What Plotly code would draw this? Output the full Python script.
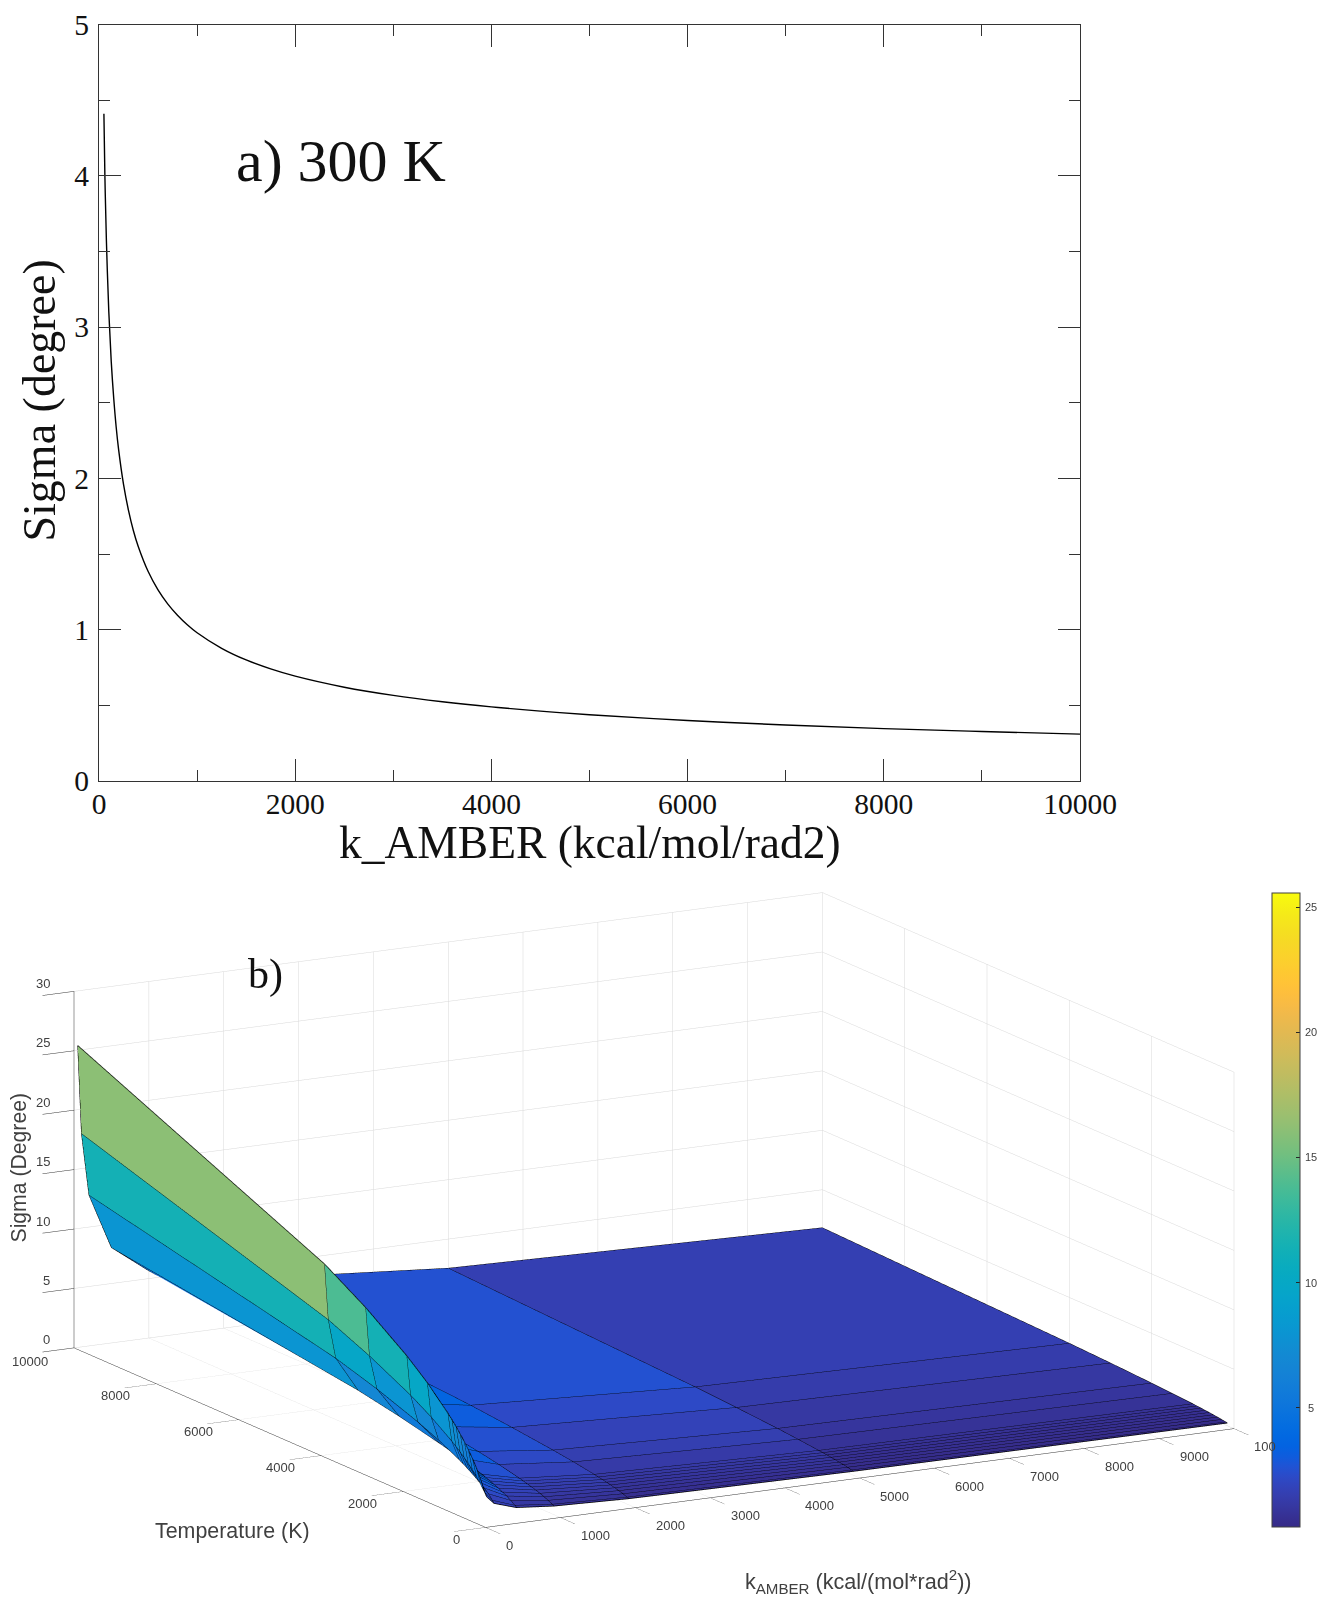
import plotly.graph_objects as go

# ---- panel a) ----
k_300 = [50, 60, 75, 100, 125, 150, 175, 200, 250, 300, 350, 400, 500, 600, 700, 800, 900, 1000, 1250, 1500, 1750,
         2000, 2500, 3000, 3500, 4000, 4500, 5000, 6000, 7000, 8000, 9000, 10000]
sigma_300 = [4.41, 4.00, 3.58, 3.10, 2.77, 2.53, 2.34, 2.19, 1.96, 1.79, 1.656, 1.55, 1.386, 1.265, 1.171, 1.096,
             1.033, 0.98, 0.877, 0.80, 0.741, 0.693, 0.62, 0.566, 0.524, 0.49, 0.462, 0.438, 0.40, 0.37, 0.346,
             0.327, 0.31]

# ---- panel b) ----
k_grid = [50, 100, 200, 500, 1000, 2000, 5000, 10000]
T_grid = [160, 200, 300, 400, 500, 600, 700, 800, 900, 1000, 1500, 2000, 3000, 4000, 10000]
sigma_grid = [
    [3.21, 2.27, 1.61, 1.01, 0.72, 0.51, 0.32, 0.23],
    [3.59, 2.54, 1.80, 1.13, 0.80, 0.57, 0.36, 0.25],
    [4.40, 3.11, 2.20, 1.39, 0.98, 0.70, 0.44, 0.31],
    [5.08, 3.59, 2.54, 1.61, 1.13, 0.81, 0.51, 0.36],
    [5.68, 4.02, 2.84, 1.79, 1.27, 0.90, 0.57, 0.40],
    [6.22, 4.40, 3.11, 1.97, 1.39, 0.99, 0.62, 0.44],
    [6.72, 4.75, 3.36, 2.12, 1.50, 1.07, 0.67, 0.47],
    [7.19, 5.08, 3.59, 2.27, 1.60, 1.14, 0.72, 0.51],
    [7.62, 5.39, 3.81, 2.41, 1.70, 1.21, 0.76, 0.54],
    [8.03, 5.68, 4.02, 2.54, 1.79, 1.28, 0.80, 0.57],
    [9.84, 6.95, 4.92, 3.11, 2.19, 1.57, 0.98, 0.69],
    [11.36, 8.03, 5.68, 3.59, 2.53, 1.81, 1.14, 0.80],
    [13.91, 9.83, 6.96, 4.40, 3.10, 2.21, 1.39, 0.98],
    [16.07, 11.36, 8.03, 5.08, 3.58, 2.56, 1.61, 1.13],
    [25.40, 17.96, 12.70, 8.03, 5.66, 4.04, 2.54, 1.79],
]
k_ticks = [0, 1000, 2000, 3000, 4000, 5000, 6000, 7000, 8000, 9000, 10000]
# the last k label really is 10000; the colorbar cuts it to "100" in the reference
k_tick_text = ["0", "1000", "2000", "3000", "4000", "5000", "6000", "7000", "8000", "9000", "100"]
T_ticks = [0, 2000, 4000, 6000, 8000, 10000]
z_ticks = [0, 5, 10, 15, 20, 25, 30]
colorbar_ticks = [5, 10, 15, 20, 25]
C_MIN, C_MAX = 0.23, 25.57
parula_rgb = [
    (.2081, .1663, .5292), (.2116, .1898, .5777), (.2123, .2138, .6270), (.2081, .2386, .6771), (.1959, .2645, .7279),
    (.1707, .2919, .7792), (.1253, .3242, .8303), (.0591, .3598, .8683), (.0117, .3875, .8820), (.0060, .4086, .8828),
    (.0165, .4266, .8786), (.0329, .4430, .8720), (.0498, .4586, .8641), (.0629, .4737, .8554), (.0723, .4887, .8467),
    (.0779, .5040, .8384), (.0793, .5200, .8312), (.0749, .5375, .8263), (.0641, .5570, .8240), (.0488, .5772, .8228),
    (.0343, .5966, .8199), (.0265, .6137, .8135), (.0239, .6287, .8038), (.0231, .6418, .7913), (.0228, .6535, .7768),
    (.0267, .6642, .7607), (.0384, .6743, .7436), (.0590, .6838, .7254), (.0843, .6928, .7062), (.1133, .7015, .6859),
    (.1453, .7098, .6646), (.1801, .7177, .6424), (.2178, .7250, .6193), (.2586, .7317, .5954), (.3022, .7376, .5712),
    (.3482, .7424, .5473), (.3953, .7459, .5244), (.4420, .7481, .5033), (.4871, .7491, .4840), (.5300, .7491, .4661),
    (.5709, .7485, .4494), (.6099, .7473, .4337), (.6473, .7456, .4188), (.6834, .7435, .4044), (.7184, .7411, .3905),
    (.7525, .7384, .3768), (.7858, .7356, .3633), (.8185, .7327, .3498), (.8507, .7299, .3360), (.8824, .7274, .3217),
    (.9139, .7258, .3063), (.9450, .7261, .2886), (.9739, .7314, .2666), (.9938, .7455, .2403), (.9990, .7653, .2164),
    (.9955, .7861, .1967), (.9880, .8066, .1794), (.9789, .8271, .1633), (.9697, .8481, .1475), (.9626, .8705, .1309),
    (.9589, .8949, .1132), (.9598, .9218, .0948), (.9661, .9514, .0755), (.9763, .9831, .0538),
]
parula = [[n / (len(parula_rgb) - 1), f"rgb({round(r * 255)},{round(g * 255)},{round(b * 255)})"]
          for n, (r, g, b) in enumerate(parula_rgb)]

W, H = 1319, 1600
def px(x): return x / W
def py(y): return 1 - y / H

SERIF = "Liberation Serif"
SANS = "Liberation Sans"
INK = "#404040"
DARK = "#111111"

nT, nk = len(T_grid), len(k_grid)
vx, vy, vz = [], [], []
for i in range(nT):
    for j in range(nk):
        vx.append(k_grid[j]); vy.append(T_grid[i]); vz.append(sigma_grid[i][j])
I, J, K, cell = [], [], [], []
for i in range(nT - 1):
    for j in range(nk - 1):
        a = i * nk + j; b = a + 1; c = a + nk; d = c + 1
        I += [a, a]; J += [b, d]; K += [d, c]
        cell += [sigma_grid[i][j], sigma_grid[i][j]]

lx, ly, lz = [], [], []
for i in range(nT):
    lx += k_grid + [None]; ly += [T_grid[i]] * nk + [None]; lz += sigma_grid[i] + [None]
for j in range(nk):
    lx += [k_grid[j]] * nT + [None]; ly += T_grid + [None]; lz += [row[j] for row in sigma_grid] + [None]

fig = go.Figure()
fig.add_trace(go.Scatter(x=k_300, y=sigma_300, mode="lines", line=dict(color="black", width=1.4, shape="spline"),
                         showlegend=False))
fig.add_trace(go.Mesh3d(x=vx, y=vy, z=vz, i=I, j=J, k=K, intensity=cell, intensitymode="cell",
                        colorscale=parula, cmin=C_MIN, cmax=C_MAX, flatshading=True,
                        lighting=dict(ambient=1, diffuse=0, specular=0, roughness=1, fresnel=0),
                        colorbar=dict(x=px(1272), xanchor="left", xpad=0, ypad=0, y=py(1527), yanchor="bottom",
                                      len=634 / H, lenmode="fraction", thickness=28, thicknessmode="pixels",
                                      tickvals=colorbar_ticks, ticks="inside", ticklen=4, tickcolor="#262626",
                                      outlinecolor="#404040", outlinewidth=1, showticklabels=False)))
fig.add_trace(go.Scatter3d(x=lx, y=ly, z=lz, mode="lines", line=dict(color="black", width=1.5), showlegend=False))

axis3d = dict(showbackground=False, showgrid=True, gridcolor="#d8d8d8", gridwidth=1, zeroline=False, showspikes=False,
              showline=True, linecolor="#333333", linewidth=1, ticks="outside", tickcolor="#333333", tickangle=0,
              tickfont=dict(family=SANS, size=13, color=INK), title=dict(text=""))

SCALE = 2.19
def label(text, x, y, size, family=SANS, color=INK, **kw):
    return dict(text=text, x=px(x), y=py(y), xref="paper", yref="paper", showarrow=False, xanchor="center", yanchor="middle",
                font=dict(family=family, size=size, color=color), **kw)

annotations = [
    label("a) 300 K", 341, 161, 60, SERIF, DARK),
    label("b)", 265, 974, 42, SERIF, DARK),
    label("k_AMBER (kcal/mol/rad2)", 590, 842, 45.5, SERIF, DARK),
    label("Sigma (degree)", 38.5, 401, 46, SERIF, DARK, textangle=-90),
    label("Sigma (Degree)", 18.5, 1168, 21.2, textangle=-90),
    label("Temperature (K)", 232, 1531, 21.4),
    label("k<sub>AMBER</sub> (kcal/(mol*rad<sup>2</sup>))", 858, 1581, 21.6),
]
for v in colorbar_ticks:
    annotations.append(label(str(v), 1311, 1527 - (v - C_MIN) / (C_MAX - C_MIN) * 634, 11))

tick_font = dict(family=SANS, size=13, color=INK)
scene_labels = []
for v, t in zip(k_ticks, k_tick_text):
    scene_labels.append(dict(x=v, y=0, z=0, text=t, showarrow=False, xanchor="left", yanchor="middle",
                             xshift=18.5, yshift=-18, font=tick_font))
for v in T_ticks:
    scene_labels.append(dict(x=0, y=v, z=0, text=str(v), showarrow=False, xanchor="right", yanchor="middle",
                             xshift=-24, yshift=-12 if v < 10000 else -14, font=tick_font))
for v in z_ticks:
    scene_labels.append(dict(x=0, y=10000, z=v, text=str(v), showarrow=False, xanchor="right", yanchor="middle",
                             xshift=-22, yshift=8, font=tick_font))

fig.update_layout(
    width=W, height=H, autosize=False, paper_bgcolor="white", plot_bgcolor="white", showlegend=False,
    margin=dict(l=0, r=0, t=0, b=0, pad=0, autoexpand=False),
    xaxis=dict(domain=[px(99), px(1080)], range=[0, 10000], tick0=0, dtick=2000, ticks="inside", ticklen=22, tickwidth=1,
               tickcolor="#333333", showline=True, linecolor="#333333", linewidth=1.3, mirror="ticks", showgrid=False, zeroline=False,
               tickformat="d", ticklabelstandoff=-4,
               minor=dict(dtick=1000, ticks="inside", ticklen=11, tickcolor="#333333", showgrid=False),
               tickfont=dict(family=SERIF, size=29.5, color=DARK)),
    yaxis=dict(domain=[py(781), py(24.5)], range=[0, 5], tick0=0, dtick=1, ticks="inside", ticklen=22, tickwidth=1,
               tickcolor="#333333", showline=True, linecolor="#333333", linewidth=1.3, mirror="ticks", showgrid=False, zeroline=False,
               ticklabelstandoff=3,
               minor=dict(dtick=0.5, ticks="inside", ticklen=11, tickcolor="#333333", showgrid=False),
               tickfont=dict(family=SERIF, size=29.5, color=DARK)),
    scene=dict(domain=dict(x=[px(0), px(1308)], y=[py(1600), py(820)]), aspectmode="manual",
               aspectratio=dict(x=SCALE, y=SCALE, z=0.43 * SCALE),
               camera=dict(projection=dict(type="orthographic"), up=dict(x=0, y=0, z=1), center=dict(x=0, y=0, z=0),
                           eye=dict(x=-0.468 * 2, y=-0.851 * 2, z=0.240 * 2)),
               xaxis=dict(range=[0, 10000], tickvals=k_ticks, ticktext=[""] * len(k_ticks), ticklen=36, **axis3d),
               yaxis=dict(range=[0, 10000], tickvals=T_ticks, ticktext=[""] * len(T_ticks), ticklen=30, **axis3d),
               zaxis=dict(range=[0, 30], tickvals=z_ticks, ticktext=[""] * len(z_ticks), ticklen=12, **axis3d),
               annotations=scene_labels,
               bgcolor="white"),
    annotations=annotations,
)
fig.write_html("out.html", config={"displayModeBar": False}, post_script="document.body.style.margin='0';")
